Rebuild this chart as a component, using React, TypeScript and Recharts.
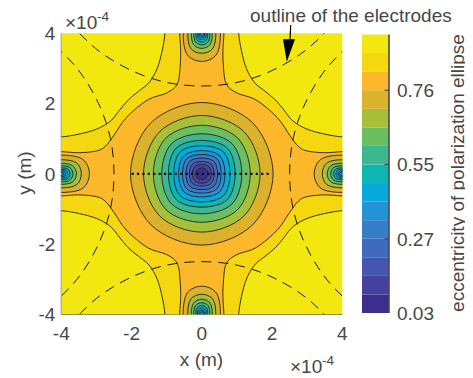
import React from 'react';
import { ScatterChart, Scatter, XAxis, YAxis, BarChart, Bar } from 'recharts';

const W = 465;
const H = 370;
const FONT = '"Liberation Sans", Arial, Helvetica, sans-serif';
const TEXT_COLOR = '#474747';
const FRAME = '#4a4a4a';
const CONTOUR = '#222222';

// 15 contour bands, from lowest (index 0) to highest (index 14)
const BAND_COLORS = [
  '#3b2e8c', '#46419f', '#4655ad', '#3f69bc', '#367dca',
  '#2193d6', '#06aadb', '#0db5b3', '#3cb78f', '#6bbf60',
  '#a8bf3a', '#dcb22c', '#fcb82b', '#f5d70f', '#f2e70e',
];
const CB_TICK_POS = [0, 4, 8, 12];
const CB_TICK_LABELS = ['0.03', '0.27', '0.55', '0.76'];
const AXIS_TICKS = [-4, -2, 0, 2, 4];

// plot extent (x10^-4 m)
const EXTENT_X = [-4, 4, 4, -4];
const EXTENT_Y = [-4, -4, 4, 4];

// boundary between band 14 and band 13, first quadrant (x10^-4 m)
const OUTER_QX = [4.6, 4.0, 3.5, 3.0, 2.6, 2.35, 2.1, 1.8, 1.5, 1.27, 1.13, 1.05, 1.03];
const OUTER_QY = [1.03, 1.05, 1.13, 1.27, 1.5, 1.8, 2.1, 2.35, 2.6, 3.0, 3.5, 4.0, 4.6];
// boundary between band 13 and band 12 (cross), first quadrant
const CROSS_QX = [4.6, 4.0, 3.5, 3.0, 2.75, 2.5, 2.15, 1.55, 1.0, 0.7, 0.62, 0.6, 0.63, 0.63];
const CROSS_QY = [0.63, 0.63, 0.6, 0.65, 0.78, 1.1, 1.6, 2.1, 2.3, 2.55, 3.0, 3.5, 4.0, 4.6];

// central contours: enclosed band, radius on the axes, diagonal coordinate
const CENTER_BANDS = [11, 10, 9, 8, 7, 6, 5, 4, 3, 2, 1, 0];
const CENTER_AXIS_R = [2.03, 1.66, 1.38, 1.14, 0.95, 0.8, 0.66, 0.55, 0.45, 0.35, 0.27, 0.17];
const CENTER_DIAG = [1.45, 1.2, 1.02, 0.86, 0.73, 0.62, 0.51, 0.43, 0.35, 0.27, 0.2, 0.12];

// contours around each electrode: band, depth into the plot, half width on the edge, 45° point
const ELEC_BANDS = [11, 10, 9, 8, 7, 6, 5, 4];
const ELEC_DEPTH = [0.8, 0.57, 0.43, 0.33, 0.25, 0.18, 0.12, 0.07];
const ELEC_HALF = [0.53, 0.4, 0.3, 0.23, 0.17, 0.125, 0.085, 0.05];
const ELEC_DIAG_U = [0.6, 0.43, 0.32, 0.245, 0.185, 0.135, 0.09, 0.052];
const ELEC_DIAG_V = [0.42, 0.315, 0.235, 0.18, 0.133, 0.098, 0.066, 0.039];
const ELEC_X = [-4, 4, 0, 0];
const ELEC_Y = [0, 0, 4, -4];
const ELEC_NX = [1, -1, 0, 0];
const ELEC_NY = [0, 0, -1, 1];

// outline of the top electrode (dashed); the others are the same by symmetry
const ARC_X = [-3.8, -3, -2, -1, 0, 1, 2, 3, 3.8];
const ARC_Y = [4.35, 3.55, 2.94, 2.6, 2.5, 2.6, 2.94, 3.55, 4.35];

// dotted segment on y = 0
const SEG_X = [-2, 2];
const SEG_Y = [0, 0];

type P = { x: number; y: number };

const closedSmooth: any = (context: any) => {
  let pts: number[][] = [];
  return {
    areaStart() {},
    areaEnd() {},
    lineStart() {
      pts = [];
    },
    point(x: number, y: number) {
      pts.push([+x, +y]);
    },
    lineEnd() {
      const n = pts.length;
      if (!n) return;
      context.moveTo(pts[0][0], pts[0][1]);
      for (let i = 0; i < n; i++) {
        const p0 = pts[(i + n - 1) % n];
        const p1 = pts[i];
        const p2 = pts[(i + 1) % n];
        const p3 = pts[(i + 2) % n];
        context.bezierCurveTo(
          p1[0] + (p2[0] - p0[0]) / 6,
          p1[1] + (p2[1] - p0[1]) / 6,
          p2[0] - (p3[0] - p1[0]) / 6,
          p2[1] - (p3[1] - p1[1]) / 6,
          p2[0],
          p2[1]
        );
      }
      context.closePath();
    },
  };
};

const zip = (xs: number[], ys: number[]): P[] => xs.map((x, i) => ({ x, y: ys[i] }));

const quadLoop = (qx: number[], qy: number[]): P[] => {
  const q1 = zip(qx, qy);
  const rev = [...q1].reverse();
  return [
    ...q1,
    ...rev.map((p) => ({ x: -p.x, y: p.y })),
    ...q1.map((p) => ({ x: -p.x, y: -p.y })),
    ...rev.map((p) => ({ x: p.x, y: -p.y })),
  ];
};

const centerLoop = (a: number, d: number): P[] => [
  { x: a, y: 0 }, { x: d, y: d }, { x: 0, y: a }, { x: -d, y: d },
  { x: -a, y: 0 }, { x: -d, y: -d }, { x: 0, y: -a }, { x: d, y: -d },
];

const elecLoop = (e: number, k: number): P[] => {
  const D = ELEC_DEPTH[k];
  const Hh = ELEC_HALF[k];
  const p = ELEC_DIAG_U[k];
  const q = ELEC_DIAG_V[k];
  const local = [
    [D, 0], [p, q], [0, Hh], [-p, q], [-D, 0], [-p, -q], [0, -Hh], [p, -q],
  ];
  const nx = ELEC_NX[e];
  const ny = ELEC_NY[e];
  return local.map(([u, v]) => ({
    x: ELEC_X[e] + u * nx - v * ny,
    y: ELEC_Y[e] + u * ny + v * nx,
  }));
};

type Region = { key: string; data: P[]; fill: string; stroke: string };

const regions: Region[] = [];
regions.push({ key: 'bg', data: zip(EXTENT_X, EXTENT_Y), fill: BAND_COLORS[14], stroke: 'none' });
regions.push({ key: 'b13', data: quadLoop(OUTER_QX, OUTER_QY), fill: BAND_COLORS[13], stroke: CONTOUR });
regions.push({ key: 'b12', data: quadLoop(CROSS_QX, CROSS_QY), fill: BAND_COLORS[12], stroke: CONTOUR });
CENTER_BANDS.forEach((b, i) => {
  regions.push({ key: `c${i}`, data: centerLoop(CENTER_AXIS_R[i], CENTER_DIAG[i]), fill: BAND_COLORS[b], stroke: CONTOUR });
});
ELEC_X.forEach((_, e) => {
  ELEC_BANDS.forEach((b, k) => {
    regions.push({ key: `e${e}-${k}`, data: elecLoop(e, k), fill: BAND_COLORS[b], stroke: CONTOUR });
  });
});

const topArc = zip(ARC_X, ARC_Y);
const arcs: P[][] = [
  topArc,
  topArc.map((p) => ({ x: p.x, y: -p.y })),
  topArc.map((p) => ({ x: -p.y, y: p.x })),
  topArc.map((p) => ({ x: p.y, y: p.x })),
];

const NoDot = () => <g />;

const cbRow: Record<string, any> = { name: 'cb' };
BAND_COLORS.forEach((_, i) => {
  cbRow[`b${i}`] = 1;
});
const cbData = [cbRow];

const CbTick = (props: any) => {
  const { x, y, payload } = props;
  const idx = CB_TICK_POS.indexOf(payload.value);
  return (
    <g>
      {idx > 0 && <line x1={x - 12.5} x2={x - 8} y1={y} y2={y} stroke={FRAME} strokeWidth={1.2} />}
      <text x={x} y={y} dy="0.36em" fill={TEXT_COLOR} fontSize={19} fontFamily={FONT}>
        {CB_TICK_LABELS[idx]}
      </text>
    </g>
  );
};

export default function App() {
  const tickStyle = { fill: TEXT_COLOR, fontSize: 19, fontFamily: FONT };
  return (
    <div style={{ position: 'relative', width: W, height: H, fontFamily: FONT }}>
      <div style={{ position: 'absolute', left: 0, top: 0 }}>
        <ScatterChart width={W} height={H} margin={{ top: 25.3, right: 130.7, bottom: 23.7, left: 8.3 }}>
          <XAxis
            type="number"
            dataKey="x"
            domain={[-4, 4]}
            ticks={AXIS_TICKS}
            allowDataOverflow
            interval={0}
            height={40}
            tickSize={0}
            tickMargin={12}
            tickLine={false}
            axisLine={{ stroke: FRAME }}
            tick={tickStyle}
          />
          <YAxis
            type="number"
            dataKey="y"
            domain={[-4, 4]}
            ticks={AXIS_TICKS}
            allowDataOverflow
            interval={0}
            width={45}
            tickSize={0}
            tickMargin={6}
            tickLine={false}
            axisLine={{ stroke: FRAME }}
            tick={tickStyle}
          />
          {regions.map((r) => (
            <Scatter
              key={r.key}
              data={r.data}
              shape={NoDot}
              line={{ fill: r.fill, stroke: r.stroke, strokeWidth: 0.9 }}
              lineType="joint"
              lineJointType={closedSmooth}
              legendType="none"
              isAnimationActive={false}
            />
          ))}
          {arcs.map((a, i) => (
            <Scatter
              key={`arc${i}`}
              data={a}
              shape={NoDot}
              line={{ stroke: '#1a1a1a', strokeWidth: 1, strokeDasharray: '10 7' }}
              lineType="joint"
              lineJointType="natural"
              legendType="none"
              isAnimationActive={false}
            />
          ))}
          <Scatter
            data={zip(SEG_X, SEG_Y)}
            shape={NoDot}
            line={{ stroke: '#111', strokeWidth: 2.2, strokeDasharray: '2.2 3.2' }}
            lineType="joint"
            lineJointType="linear"
            legendType="none"
            isAnimationActive={false}
          />
        </ScatterChart>
      </div>
      <div style={{ position: 'absolute', left: 340, top: 0 }}>
        <BarChart
          width={125}
          height={H}
          data={cbData}
          margin={{ top: 26.5, right: 24, bottom: 65, left: 14 }}
          barCategoryGap={0}
          barGap={0}
        >
          <XAxis dataKey="name" xAxisId="b" orientation="bottom" height={0} tick={false} tickLine={false} axisLine={{ stroke: FRAME, strokeWidth: 1.6 }} />
          <XAxis dataKey="name" xAxisId="t" orientation="top" height={0} tick={false} tickLine={false} axisLine={{ stroke: FRAME, strokeWidth: 1.6 }} />
          <YAxis yAxisId="l" orientation="left" width={0} type="number" domain={[0, 15]} tick={false} tickLine={false} axisLine={{ stroke: FRAME, strokeWidth: 1.6 }} />
          <YAxis
            yAxisId="r"
            orientation="right"
            width={60}
            type="number"
            domain={[0, 15]}
            ticks={CB_TICK_POS}
            interval={0}
            tickSize={0}
            tickMargin={8}
            tickLine={false}
            axisLine={{ stroke: FRAME, strokeWidth: 1.6 }}
            tick={CbTick}
          />
          {BAND_COLORS.map((c, i) => (
            <Bar key={i} dataKey={`b${i}`} stackId="s" fill={c} xAxisId="b" yAxisId="r" isAnimationActive={false} />
          ))}
        </BarChart>
      </div>
      <svg
        width={W}
        height={H}
        style={{ position: 'absolute', left: 0, top: 0, pointerEvents: 'none', overflow: 'visible' }}
        fontFamily={FONT}
      >
        <text x={242} y={13.7} fontSize={19} fill={TEXT_COLOR}>outline of the electrodes</text>
        <line x1={282.7} y1={17} x2={282} y2={32} stroke="#000" strokeWidth={1.2} />
        <polygon points="275,31.3 287,31.3 278.8,53.7" fill="#000" />
        <text x={57} y={21.3} fontSize={19} fill={TEXT_COLOR}>×10</text>
        <text x={89} y={12.5} fontSize={13.5} fill={TEXT_COLOR}>-4</text>
        <text x={282} y={365.3} fontSize={19} fill={TEXT_COLOR}>×10</text>
        <text x={314} y={357} fontSize={13.5} fill={TEXT_COLOR}>-4</text>
        <text x={193.5} y={358} fontSize={19} fill={TEXT_COLOR} textAnchor="middle">x (m)</text>
        <text
          x={16.5}
          y={165}
          fontSize={19}
          fill={TEXT_COLOR}
          textAnchor="middle"
          dominantBaseline="central"
          transform="rotate(-90 16.5 165)"
        >
          y (m)
        </text>
        <text
          x={449.5}
          y={165}
          fontSize={19}
          fill={TEXT_COLOR}
          textAnchor="middle"
          dominantBaseline="central"
          transform="rotate(-90 449.5 165)"
        >
          eccentricity of polarization ellipse
        </text>
      </svg>
    </div>
  );
}
